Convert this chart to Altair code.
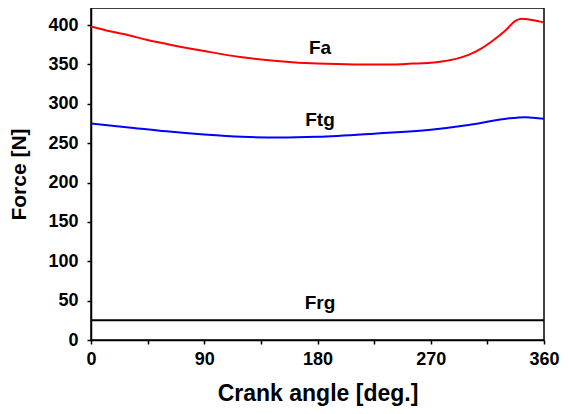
import altair as alt
import pandas as pd

angle_fa = [0, 15, 30, 45, 60, 90, 120, 150, 180, 210, 240, 255, 270, 280, 290, 300, 310, 320, 330, 337, 342, 348, 355, 360]
fa = [398, 392, 387, 381, 376, 367, 359, 354, 351, 350, 350, 351, 352, 354, 357, 362, 370, 381, 394, 405, 408, 407, 405, 403]

angle_ftg = [0, 30, 60, 90, 120, 150, 180, 225, 270, 300, 330, 345, 360]
ftg = [275, 270, 265, 261, 258, 257, 258, 262, 267, 273, 281, 283, 281]

angle_frg = [0, 360]
frg = [25, 25]

label_text = ["Fa", "Ftg", "Frg"]
label_x = [182, 182, 182]
label_y = [371, 279, 47]

rows = []
for a, v in zip(angle_fa, fa):
    rows.append({"angle": a, "force": v, "series": "Fa"})
for a, v in zip(angle_ftg, ftg):
    rows.append({"angle": a, "force": v, "series": "Ftg"})
for a, v in zip(angle_frg, frg):
    rows.append({"angle": a, "force": v, "series": "Frg"})
df = pd.DataFrame(rows)
lab = pd.DataFrame({"text": label_text, "angle": label_x, "force": label_y})

font = "Liberation Sans"
W, H = 453, 332

xscale = alt.Scale(domain=[0, 360], nice=False, zero=False)
yscale = alt.Scale(domain=[0, 421.6], nice=False)

xaxis = alt.Axis(
    values=[0, 45, 90, 135, 180, 225, 270, 315, 360],
    labelExpr="datum.value % 90 == 0 ? datum.label : ''",
    title="Crank angle [deg.]", grid=False, tickSize=4, tickColor="black",
    tickWidth=1.5, domainColor="black", domainWidth=1.5,
    labelFont=font, labelFontSize=18, labelFontWeight="bold", labelColor="black",
    labelPadding=6, labelFlush=False,
    titleFont=font, titleFontSize=23, titleFontWeight="bold", titleColor="black",
    titlePadding=14,
)
yaxis = alt.Axis(
    values=list(range(0, 401, 25)),
    labelExpr="datum.value % 50 == 0 ? datum.label : ''",
    title="Force [N]", grid=False, tickSize=4, tickColor="black",
    tickWidth=1.5, domainColor="black", domainWidth=1.5,
    labelFont=font, labelFontSize=18, labelFontWeight="bold", labelColor="black",
    labelPadding=9, labelFlush=False,
    titleFont=font, titleFontSize=21, titleFontWeight="bold", titleColor="black",
    titlePadding=18,
)

lines = alt.Chart(df).mark_line(strokeWidth=2, interpolate="monotone").encode(
    x=alt.X("angle:Q", scale=xscale, axis=xaxis),
    y=alt.Y("force:Q", scale=yscale, axis=yaxis),
    color=alt.Color("series:N", scale=alt.Scale(domain=["Fa", "Ftg", "Frg"],
                                                range=["#ff0000", "#0000ff", "#000000"]), legend=None),
    detail="series:N",
)

texts = alt.Chart(lab).mark_text(font=font, fontSize=19, fontWeight="bold", color="black").encode(
    x=alt.X("angle:Q", scale=xscale),
    y=alt.Y("force:Q", scale=yscale),
    text="text:N",
)

chart = alt.layer(lines, texts).properties(
    width=W, height=H,
    autosize=alt.AutoSizeParams(type="none"),
    padding={"left": 83, "top": 0, "right": 17, "bottom": 66},
).configure_view(stroke="black", strokeWidth=1.5)

chart.save("out.html", embed_options={"renderer": "svg", "actions": False})
